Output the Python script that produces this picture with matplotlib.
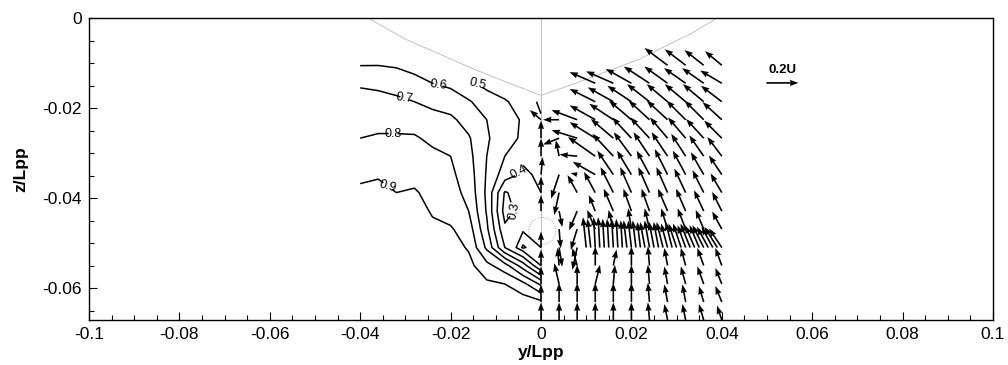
import numpy as np
import matplotlib
matplotlib.use("Agg")
import matplotlib.pyplot as plt
from matplotlib.patches import Circle

plt.rcParams['font.family'] = ['Liberation Sans', 'DejaVu Sans']

# ---- wake (contour) data, port side ----
wake_y = [-0.040, -0.036, -0.032, -0.028, -0.024, -0.020, -0.016, -0.012, -0.008, -0.004, 0.0]
wake_z = [-0.0105, -0.0145, -0.0186, -0.0226, -0.0267, -0.0307, -0.0348, -0.0388,
          -0.0429, -0.0469, -0.0510, -0.0550, -0.0591, -0.0631]
nan = np.nan
wake = [
    [0.598, 0.599, 0.59, 0.56, 0.54, 0.53, nan, nan, nan, nan, nan],
    [0.69, 0.68, 0.66, 0.64, 0.60, 0.58, 0.52, 0.47, 0.44, nan, nan],
    [0.73, 0.73, 0.72, 0.70, 0.67, 0.65, 0.61, 0.55, 0.51, 0.46, 0.38],
    [0.77, 0.77, 0.77, 0.76, 0.74, 0.72, 0.66, 0.60, 0.54, 0.49, 0.41],
    [0.80, 0.81, 0.81, 0.81, 0.78, 0.76, 0.71, 0.61, 0.55, 0.48, 0.44],
    [0.84, 0.85, 0.84, 0.84, 0.82, 0.80, 0.73, 0.60, 0.50, 0.42, 0.44],
    [0.88, 0.89, 0.87, 0.87, 0.84, 0.82, 0.75, 0.59, 0.45, 0.38, 0.42],
    [0.92, 0.93, 0.90, 0.91, 0.87, 0.84, 0.77, 0.58, 0.29, 0.35, 0.40],
    [0.95, 0.95, 0.94, 0.94, 0.89, 0.86, 0.80, 0.59, 0.26, 0.34, 0.38],
    [0.96, 0.96, 0.95, 0.95, 0.92, 0.91, 0.85, 0.62, 0.32, 0.31, 0.36],
    [0.97, 0.97, 0.96, 0.96, 0.95, 0.94, 0.89, 0.68, 0.40, 0.24, 0.30],
    [0.97, 0.97, 0.97, 0.97, 0.96, 0.96, 0.93, 0.83, 0.74, 0.55, 0.30],
    [0.97, 0.97, 0.97, 0.97, 0.97, 0.97, 0.96, 0.92, 0.90, 0.83, 0.68],
    [0.97, 0.97, 0.97, 0.97, 0.97, 0.97, 0.97, 0.96, 0.95, 0.95, 0.92],
]
levels = [0.3, 0.4, 0.5, 0.6, 0.7, 0.8, 0.9]
inner_levels = [0.25]

# ---- cross-flow vectors (in units of U), starboard side ----
vec_y = [0.0, 0.004, 0.008, 0.012, 0.016, 0.020, 0.024, 0.028, 0.032, 0.036, 0.040]
vec_z = [-0.0105, -0.0145, -0.0186, -0.0226, -0.0267, -0.0307, -0.0348, -0.0388,
         -0.0429, -0.0469, -0.0510, -0.0550, -0.0591, -0.0631, -0.0671]
vy = [
    [nan, nan, nan, nan, nan, nan, nan, -0.144, -0.13, -0.12, -0.105],
    [nan, nan, nan, -0.16, -0.17, -0.16, -0.16, -0.145, -0.135, -0.135, -0.135],
    [nan, nan, nan, -0.16, -0.16, -0.15, -0.14, -0.13, -0.13, -0.13, -0.13],
    [-0.07, -0.10, -0.16, -0.16, -0.15, -0.14, -0.13, -0.13, -0.12, -0.12, -0.12],
    [0.00, -0.10, -0.16, -0.16, -0.14, -0.12, -0.12, -0.11, -0.11, -0.11, -0.11],
    [0.00, -0.02, -0.11, -0.17, -0.13, -0.11, -0.10, -0.10, -0.09, -0.09, -0.09],
    [0.01, -0.05, -0.04, -0.14, -0.10, -0.09, -0.08, -0.08, -0.08, -0.08, -0.08],
    [0.00, -0.03, -0.06, -0.07, -0.08, -0.07, -0.07, -0.07, -0.07, -0.07, -0.07],
    [0.00, 0.02, -0.05, -0.04, -0.06, -0.05, -0.05, -0.06, -0.06, -0.06, -0.06],
    [nan, 0.01, -0.04, -0.05, -0.03, -0.02, -0.03, -0.04, -0.05, -0.05, -0.06],
    [0.00, 0.02, -0.03, nan, nan, nan, nan, nan, nan, nan, nan],
    [0.00, -0.01, -0.03, 0.00, 0.02, 0.00, -0.01, -0.02, -0.03, -0.04, -0.04],
    [0.00, -0.03, 0.00, 0.03, 0.01, 0.00, -0.01, -0.02, -0.03, -0.04, -0.04],
    [0.00, 0.00, 0.00, 0.00, 0.00, 0.00, -0.01, -0.02, -0.02, -0.03, -0.04],
    [0.00, 0.00, 0.00, 0.00, 0.00, 0.00, -0.01, -0.02, -0.02, -0.03, -0.03],
]
vz = [
    [nan, nan, nan, nan, nan, nan, nan, 0.108, 0.10, 0.095, 0.088],
    [nan, nan, nan, 0.07, 0.075, 0.09, 0.105, 0.105, 0.095, 0.095, 0.08],
    [nan, nan, nan, 0.08, 0.09, 0.10, 0.11, 0.11, 0.11, 0.11, 0.10],
    [0.06, 0.00, 0.06, 0.09, 0.10, 0.12, 0.12, 0.12, 0.12, 0.12, 0.11],
    [0.11, -0.04, 0.05, 0.10, 0.12, 0.13, 0.13, 0.13, 0.13, 0.12, 0.11],
    [0.11, 0.10, 0.01, 0.12, 0.14, 0.15, 0.15, 0.15, 0.14, 0.13, 0.12],
    [0.11, -0.15, 0.01, 0.08, 0.15, 0.15, 0.15, 0.16, 0.15, 0.14, 0.12],
    [0.10, -0.14, 0.11, 0.13, 0.16, 0.16, 0.16, 0.16, 0.15, 0.14, 0.12],
    [0.10, -0.10, -0.12, 0.10, 0.14, 0.14, 0.14, 0.14, 0.14, 0.13, 0.12],
    [nan, -0.12, -0.13, 0.12, 0.12, 0.13, 0.13, 0.13, 0.13, 0.12, 0.11],
    [0.10, -0.12, -0.14, nan, nan, nan, nan, nan, nan, nan, nan],
    [0.10, 0.11, 0.11, 0.12, 0.10, 0.12, 0.12, 0.11, 0.11, 0.11, 0.11],
    [0.11, 0.13, 0.12, 0.12, 0.12, 0.12, 0.12, 0.11, 0.11, 0.11, 0.10],
    [0.11, 0.12, 0.12, 0.12, 0.12, 0.12, 0.12, 0.11, 0.11, 0.10, 0.10],
    [0.11, 0.11, 0.11, 0.11, 0.11, 0.11, 0.11, 0.10, 0.10, 0.10, 0.09],
]

# dense traverse at z = -0.051
dense_z = -0.051
dense_y = [0.010, 0.011, 0.012, 0.013, 0.014, 0.015, 0.016, 0.017, 0.018, 0.019, 0.020,
           0.021, 0.022, 0.023, 0.024, 0.025, 0.026, 0.027, 0.028, 0.029, 0.030,
           0.031, 0.032, 0.033, 0.034, 0.035, 0.036, 0.037, 0.038, 0.039, 0.040]
dense_vy = [-0.02, -0.02, -0.01, -0.01, -0.01, -0.01, -0.01, -0.01, -0.01, -0.02, -0.02,
            -0.02, -0.02, -0.03, -0.03, -0.03, -0.03, -0.04, -0.04, -0.04, -0.05,
            -0.05, -0.05, -0.06, -0.06, -0.06, -0.07, -0.07, -0.07, -0.08, -0.08]
dense_vz = [0.19, 0.18, 0.19, 0.19, 0.18, 0.18, 0.18, 0.18, 0.17, 0.17, 0.17,
            0.17, 0.16, 0.16, 0.17, 0.16, 0.16, 0.16, 0.15, 0.16, 0.15,
            0.15, 0.14, 0.15, 0.14, 0.14, 0.14, 0.13, 0.13, 0.13, 0.12]

# hull section and propeller shaft
hull_y = [-0.0383, -0.0296, -0.0220, -0.0150, -0.0075, 0.0, 0.0071, 0.0145, 0.0219, 0.0280, 0.0330, 0.0390]
hull_z = [0.0, -0.0049, -0.0082, -0.0113, -0.0143, -0.0172, -0.0147, -0.0119, -0.0091, -0.0060, -0.0036, 0.0]
shaft_y, shaft_z, shaft_r = 0.0003, -0.0473, 0.003

xticks = [-0.1, -0.08, -0.06, -0.04, -0.02, 0, 0.02, 0.04, 0.06, 0.08, 0.1]
xticklabels = ['-0.1', '-0.08', '-0.06', '-0.04', '-0.02', '0', '0.02', '0.04', '0.06', '0.08', '0.1']
yticks = [0, -0.02, -0.04, -0.06]
yticklabels = ['0', '-0.02', '-0.04', '-0.06']

fig = plt.figure(figsize=(10.08, 3.65), dpi=100)
ax = fig.add_axes([89 / 1008, 45 / 365, 904 / 1008, 302 / 365])

# hull outline + centre line
ax.plot(hull_y, hull_z, color='#b8b8b8', lw=0.6, zorder=1)
ax.plot([0, 0], [0, -0.0671], color='#b8b8b8', lw=0.6, zorder=1)
ax.add_patch(Circle((shaft_y, shaft_z), shaft_r, fill=False, ec='#a0a0a0', lw=0.7, ls=':', zorder=1))

# contours
Yg, Zg = np.meshgrid(wake_y, wake_z)
W = np.ma.masked_invalid(np.array(wake))
cs = ax.contour(Yg, Zg, W, levels=levels, colors='k', linewidths=1.1, zorder=2)
ax.contour(Yg, Zg, W, levels=inner_levels, colors='k', linewidths=1.1, zorder=2)
label_pos = [(-0.0338, -0.0360), (-0.0327, -0.0249), (-0.0301, -0.0171), (-0.0228, -0.0151),
             (-0.0140, -0.0152), (-0.0051, -0.0331), (-0.0046, -0.0409)]
ax.clabel(cs, fmt='%.1f', fontsize=9, inline=True, inline_spacing=2, manual=label_pos)

# vectors
qkw = dict(angles='xy', scale_units='xy', scale=28.2, width=0.0018, headwidth=3.8,
           headlength=5.2, headaxislength=4.8, color='k', pivot='tail', zorder=3)
Yv, Zv = np.meshgrid(vec_y, vec_z)
q = ax.quiver(Yv, Zv, np.ma.masked_invalid(np.array(vy)), np.ma.masked_invalid(np.array(vz)), **qkw)
ax.quiver(dense_y, [dense_z] * len(dense_y), dense_vy, dense_vz, **qkw)
ax.quiverkey(q, X=0.767, Y=0.785, U=0.2, label='0.2U', labelpos='N', coordinates='axes',
             labelsep=0.07, fontproperties={'weight': 'bold', 'size': 9.5})

ax.set_xlim(-0.1, 0.1)
ax.set_ylim(-0.0671, 0)
ax.set_xticks(xticks)
ax.set_xticklabels(xticklabels)
ax.set_yticks(yticks)
ax.set_yticklabels(yticklabels)
ax.set_xticks(np.arange(-0.1, 0.1001, 0.005), minor=True)
ax.set_yticks(np.arange(-0.065, 0.0001, 0.005), minor=True)
ax.tick_params(which='both', direction='in', labelsize=12.5, top=False, right=False)
ax.tick_params(which='major', length=6, width=0.8, pad=5)
ax.tick_params(which='minor', length=3.5, width=0.8)
for s in ax.spines.values():
    s.set_linewidth(1.0)

ax.set_xlabel('y/Lpp', fontsize=12.5, fontweight='bold', labelpad=2)
ax.set_ylabel('z/Lpp', fontsize=12.5, fontweight='bold', labelpad=10)

fig.savefig('out.png', dpi=100)
